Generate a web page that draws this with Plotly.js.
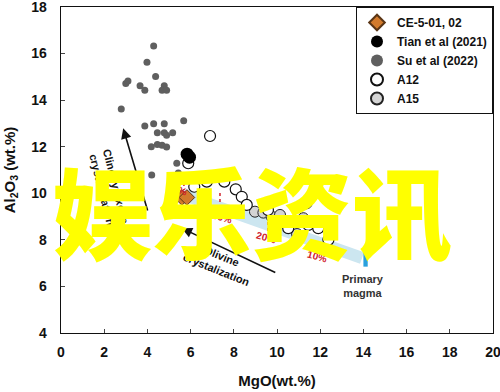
<!DOCTYPE html>
<html><head><meta charset="utf-8">
<script src="https://cdn.plot.ly/plotly-3.0.1.min.js"></script>
<style>html,body{margin:0;padding:0;background:#fff}#chart{width:500px;height:392px}</style>
</head><body><div id="chart"></div>
<script>
// ---- data ----
const suX = [4.29,3.98,4.38,3.00,3.10,3.66,3.88,4.78,4.68,4.89,2.79,5.68,4.29,4.78,3.88,4.46,4.78,4.89,5.17,4.18,4.46,4.68,4.89,5.36,5.43,4.20];
const suY = [16.33,15.63,15.02,14.72,14.82,14.62,14.42,14.62,14.42,14.42,13.62,13.12,12.99,12.99,12.89,12.60,12.60,12.49,12.60,12.00,12.10,12.06,11.99,11.29,10.87,10.79];
const tianX = [5.84,5.95];
const tianY = [11.68,11.55];
const ceX = [5.60,5.83];
const ceY = [9.82,9.82];
const a12X = [6.90,5.89,6.17,6.75,7.56,8.09,8.37,8.60,10.52,10.97,11.45,11.91,12.38,14.54,9.58];
const a12Y = [12.46,11.29,10.28,10.50,10.50,10.17,9.85,9.50,8.50,8.78,8.64,8.50,8.00,7.92,9.28];
const a15X = [8.98,9.37,9.75,10.52,11.22,11.37,10.14,10.93];
const a15Y = [9.21,9.17,9.00,8.78,8.93,9.57,9.07,8.25];
const xTicks = [0,2,4,6,8,10,12,14,16,18,20];
const yTicks = [4,6,8,10,12,14,16,18];
// olivine fractionation band (start, end) and primary magma box
const bandX = [5.69,13.94];
const bandY = [9.93,7.22];
const magmaBox = {x:[14.0,14.2], y:[6.85,7.55]};
const pctLabels = ['40%','30%','20%','10%'];
const pctLineX = [5.69,7.36,9.58,11.99];
const pctLineY0 = [10.70,10.01,8.77,7.78];
const pctLineY1 = [10.14,9.41,8.30,7.48];
const pctTextX = [5.35,7.45,9.49,11.85];
const pctTextY = [10.15,8.94,8.08,7.27];

const FF = 'Liberation Sans, Arial, sans-serif';
const b = s => '<b>' + s + '</b>';

const traces = [
  {x:suX,y:suY,name:b('Su et al (2022)'),type:'scatter',mode:'markers',legendrank:3,
   marker:{size:7,color:'#5f5f5f'}},
  {x:a15X,y:a15Y,name:b('A15'),type:'scatter',mode:'markers',legendrank:5,
   marker:{size:11,color:'#d4d4d4',line:{color:'#222',width:1}}},
  {x:a12X,y:a12Y,name:b('A12'),type:'scatter',mode:'markers',legendrank:4,
   marker:{size:11,color:'#ffffff',line:{color:'#111',width:1.2}}},
  {x:tianX,y:tianY,name:b('Tian et al (2021)'),type:'scatter',mode:'markers',legendrank:2,
   marker:{size:13,color:'#000'}},
  {x:ceX,y:ceY,name:b('CE-5-01, 02'),type:'scatter',mode:'markers',legendrank:1,
   marker:{size:12,symbol:'diamond',color:'#d27a2c',line:{color:'#5a3515',width:1}}}
];

const shapes = [
  {type:'line',xref:'x',yref:'y',x0:bandX[0],y0:bandY[0],x1:bandX[1],y1:bandY[1],
   line:{color:'#cce6f0',width:12},layer:'below'},
  {type:'rect',xref:'x',yref:'y',x0:magmaBox.x[0],x1:magmaBox.x[1],y0:magmaBox.y[0],y1:magmaBox.y[1],
   fillcolor:'#2aa0dd',line:{width:0}}
];
pctLabels.forEach((t,i)=>{
  shapes.push({type:'line',xref:'x',yref:'y',x0:pctLineX[i],x1:pctLineX[i],y0:pctLineY0[i],y1:pctLineY1[i],
    line:{color:'#d0202a',width:1.5,dash:'dot'}});
});

const annotations = [];
pctLabels.forEach((t,i)=>{
  annotations.push({x:pctTextX[i],y:pctTextY[i],xref:'x',yref:'y',text:b(t),showarrow:false,textangle:15,
    font:{family:FF,size:10,color:'#d0202a'}});
});
// arrows
annotations.push({x:2.88,y:12.79,ax:4.03,ay:9.20,xref:'x',yref:'y',axref:'x',ayref:'y',text:'',
  showarrow:true,arrowhead:2,arrowsize:1.3,arrowwidth:1.6,arrowcolor:'#111'});
annotations.push({x:5.59,y:8.50,ax:9.99,ay:6.57,xref:'x',yref:'y',axref:'x',ayref:'y',text:'',
  showarrow:true,arrowhead:2,arrowsize:1.3,arrowwidth:1.6,arrowcolor:'#111'});
annotations.push({x:2.2,y:10.25,xref:'x',yref:'y',text:b('Clinopyroxene<br>crystallization'),showarrow:false,
  textangle:76,font:{family:FF,size:11,color:'#111'}});
annotations.push({x:7.35,y:7.02,xref:'x',yref:'y',text:b('Olivine<br>crystalization'),showarrow:false,
  textangle:22,font:{family:FF,size:11,color:'#111'}});
annotations.push({x:13.98,y:6.04,xref:'x',yref:'y',text:b('Primary<br>magma'),showarrow:false,
  font:{family:FF,size:11,color:'#333'}});
// watermark overlay
annotations.push({x:8.82,y:9.35,xref:'x',yref:'y',text:'娱乐资讯',showarrow:false,
  font:{family:'Noto Sans CJK SC, sans-serif',size:100,color:'#ffff00',weight:900}});

const layout = {
  width:500,height:392,
  margin:{l:61,r:7,t:7,b:59},
  paper_bgcolor:'#fff',plot_bgcolor:'#fff',
  showlegend:true,
  legend:{x:1,y:1,xanchor:'right',yanchor:'top',bgcolor:'#fff',bordercolor:'#111',borderwidth:1,
    font:{family:FF,size:12,color:'#111'},itemsizing:'constant',tracegroupgap:0},
  xaxis:{range:[0,20],tickvals:xTicks,ticktext:xTicks.map(v=>b(v)),ticks:'inside',ticklen:4,tickwidth:1,
    showline:true,mirror:true,linecolor:'#111',linewidth:1.3,showgrid:false,zeroline:false,
    ticklabeloverflow:'allow',ticklabelstandoff:6,
    tickfont:{family:FF,size:14,color:'#111'},
    title:{text:b('MgO(wt.%)'),font:{family:FF,size:15,color:'#111'},standoff:16}},
  yaxis:{range:[4,18],tickvals:yTicks,ticktext:yTicks.map(v=>b(v)),ticks:'inside',ticklen:4,tickwidth:1,
    showline:true,mirror:true,linecolor:'#111',linewidth:1.3,showgrid:false,zeroline:false,
    ticklabeloverflow:'allow',ticklabelstandoff:10,
    tickfont:{family:FF,size:14,color:'#111'},
    title:{text:b('Al<sub>2</sub>O<sub>3</sub> (wt.%)'),font:{family:FF,size:15,color:'#111'},standoff:12}},
  shapes:shapes,
  annotations:annotations
};
Plotly.newPlot('chart',traces,layout,{displayModeBar:false,staticPlot:true});
</script></body></html>
